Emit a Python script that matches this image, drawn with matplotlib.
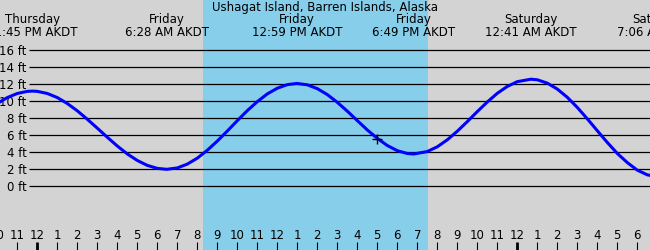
import matplotlib
matplotlib.use('Agg')
import matplotlib.pyplot as plt
from matplotlib import transforms

# hours since Friday 00:00 AKDT and tide height (ft)
hours = [-2, -1.5, -1, -0.5, -0.25, 0, 0.5, 1, 1.5, 2, 2.5, 3, 3.5, 4, 4.5,
         5, 5.5, 6, 6.47, 7, 7.5, 8, 8.5, 9, 9.5, 10, 10.5, 11, 11.5, 12,
         12.5, 12.98, 13.5, 14, 14.5, 15, 15.5, 16, 16.5, 17, 17.5, 18, 18.5,
         18.82, 19.5, 20, 20.5, 21, 21.5, 22, 22.5, 23, 23.5, 24, 24.68, 25,
         25.5, 26, 26.5, 27, 27.5, 28, 28.5, 29, 29.5, 30, 30.5, 31]
heights = [9.74, 10.44, 10.92, 11.17, 11.2, 11.17, 10.92, 10.44, 9.74, 8.88,
           7.89, 6.84, 5.77, 4.74, 3.81, 3.04, 2.46, 2.11, 2.0, 2.16, 2.61,
           3.31, 4.24, 5.32, 6.5, 7.72, 8.9, 9.96, 10.87, 11.54, 11.96, 12.1,
           11.94, 11.49, 10.79, 9.88, 8.84, 7.73, 6.63, 5.64, 4.8, 4.19, 3.86,
           3.8, 4.09, 4.65, 5.47, 6.48, 7.61, 8.79, 9.92, 10.94, 11.75, 12.31,
           12.6, 12.53, 12.14, 11.44, 10.47, 9.28, 7.94, 6.54, 5.16, 3.87,
           2.79, 1.9, 1.35, 1.11]

# high / low tide events
event_hours = [-0.25, 6.47, 12.98, 18.82, 24.68, 31.1]
event_days = ['Thursday', 'Friday', 'Friday', 'Friday', 'Saturday', 'Saturday']
event_times = ['11:45 PM AKDT', '6:28 AM AKDT', '12:59 PM AKDT',
               '6:49 PM AKDT', '12:41 AM AKDT', '7:06 AM AKDT']

sunrise, sunset = 8.27, 19.53
now_hour, now_height = 17.0, 5.6
levels = [0, 2, 4, 6, 8, 10, 12, 14, 16]
tick_hours = list(range(-2, 31))
title = 'Ushagat Island, Barren Islands, Alaska'

plt.rcParams['font.family'] = 'DejaVu Sans'
plt.rcParams['font.size'] = 8.5

W, H = 650, 250
px_per_hour = 20.0
x0 = 37.3            # pixel of Friday 00:00
y0, px_per_ft = 186.3, 8.5

fig = plt.figure(figsize=(W / 100, H / 100), dpi=100)
fig.patch.set_facecolor('#d3d3d3')
ax = fig.add_axes([0, 0, 1, 1])
ax.axis('off')
ax.set_xlim(-x0 / px_per_hour, (W - x0) / px_per_hour)
ax.set_ylim((y0 - H) / px_per_ft, y0 / px_per_ft)

ax.axvspan(sunrise, sunset, color='#87ceeb', lw=0, zorder=0)

# grid lines and labels
ax.hlines(levels, (29 - x0) / px_per_hour, 40, color='black', lw=0.9, zorder=1)
ylab = transforms.blended_transform_factory(ax.transAxes, ax.transData)
for lv in levels:
    ax.text(26.5 / W, lv - 0.52, f'{lv} ft', transform=ylab,
            ha='right', va='baseline')

ax.plot(hours, heights, color='#0000ff', lw=2.2, solid_joinstyle='round',
        solid_capstyle='round', zorder=3)
ax.plot(now_hour, now_height, marker='+', color='black', ms=6.5, mew=1.0, zorder=4)

# headers
xt = ax.get_xaxis_transform()
ax.text((W / 2 - x0) / px_per_hour, 1 - 11.3 / H, title, transform=xt,
        ha='center', va='baseline')
for t, d, s in zip(event_hours, event_days, event_times):
    ax.text(t, 1 - 23.5 / H, d, transform=xt, ha='center', va='baseline')
    ax.text(t, 1 - 35.7 / H, s, transform=xt, ha='center', va='baseline')

# hour ticks along the bottom
for t in tick_hours:
    h = t % 12
    lab = '12' if h == 0 else str(h)
    ax.text(t, 1 - 239.3 / H, lab, transform=xt, ha='center', va='baseline')
    midnight = (t % 24 == 0)
    ax.vlines(t, 0, 8.5 / H, transform=xt, color='black',
              lw=2.0 if midnight else 0.8)

fig.savefig('out.png', dpi=100, facecolor=fig.get_facecolor())
